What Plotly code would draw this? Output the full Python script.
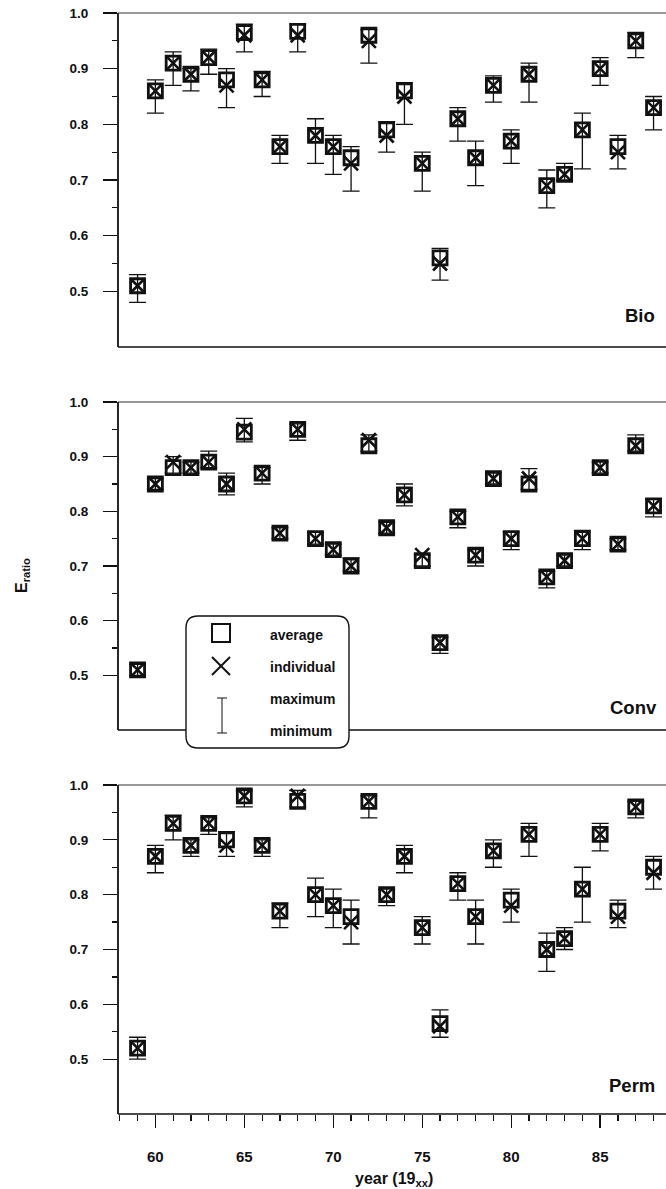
import plotly.graph_objects as go

# ---------------- data ----------------
years = list(range(59, 89))

bio_avg = [0.51, 0.86, 0.91, 0.89, 0.92, 0.88, 0.965, 0.88, 0.76, 0.967, 0.78, 0.76, 0.74, 0.96, 0.79,
           0.86, 0.73, 0.56, 0.81, 0.74, 0.87, 0.77, 0.89, 0.69, 0.71, 0.79, 0.90, 0.76, 0.95, 0.83]
bio_ind = [0.51, 0.86, 0.91, 0.89, 0.92, 0.87, 0.96, 0.88, 0.76, 0.96, 0.78, 0.76, 0.73, 0.95, 0.78,
           0.85, 0.73, 0.55, 0.81, 0.74, 0.87, 0.77, 0.89, 0.69, 0.71, 0.79, 0.90, 0.75, 0.95, 0.83]
bio_max = [0.53, 0.88, 0.93, 0.90, 0.935, 0.90, 0.98, 0.895, 0.78, 0.98, 0.81, 0.78, 0.76, 0.97, 0.805,
           0.875, 0.75, 0.577, 0.83, 0.77, 0.887, 0.79, 0.91, 0.718, 0.73, 0.82, 0.92, 0.78, 0.965, 0.85]
bio_min = [0.48, 0.82, 0.87, 0.86, 0.89, 0.83, 0.93, 0.85, 0.73, 0.93, 0.73, 0.71, 0.68, 0.91, 0.75,
           0.80, 0.68, 0.52, 0.77, 0.69, 0.84, 0.73, 0.84, 0.65, 0.70, 0.72, 0.87, 0.72, 0.92, 0.79]

conv_avg = [0.51, 0.85, 0.88, 0.88, 0.89, 0.85, 0.945, 0.87, 0.76, 0.95, 0.75, 0.73, 0.70, 0.92, 0.77,
            0.83, 0.71, 0.56, 0.79, 0.72, 0.86, 0.75, 0.85, 0.68, 0.71, 0.75, 0.88, 0.74, 0.92, 0.81]
conv_ind = [0.51, 0.85, 0.89, 0.88, 0.89, 0.85, 0.95, 0.87, 0.76, 0.95, 0.75, 0.73, 0.70, 0.93, 0.77,
            0.83, 0.72, 0.56, 0.79, 0.72, 0.86, 0.75, 0.86, 0.68, 0.71, 0.75, 0.88, 0.74, 0.92, 0.81]
conv_max = [0.52, 0.86, 0.90, 0.89, 0.91, 0.87, 0.97, 0.88, 0.77, 0.96, 0.762, 0.74, 0.715, 0.94, 0.78,
            0.85, 0.72, 0.57, 0.80, 0.73, 0.87, 0.762, 0.878, 0.69, 0.72, 0.765, 0.89, 0.75, 0.94, 0.823]
conv_min = [0.50, 0.84, 0.87, 0.87, 0.88, 0.83, 0.927, 0.85, 0.75, 0.93, 0.74, 0.72, 0.69, 0.91, 0.76,
            0.81, 0.70, 0.54, 0.77, 0.70, 0.85, 0.73, 0.84, 0.66, 0.70, 0.73, 0.87, 0.73, 0.91, 0.79]

perm_avg = [0.52, 0.87, 0.93, 0.89, 0.93, 0.90, 0.98, 0.89, 0.77, 0.97, 0.80, 0.78, 0.76, 0.97, 0.80,
            0.87, 0.74, 0.565, 0.82, 0.76, 0.88, 0.79, 0.91, 0.70, 0.72, 0.81, 0.91, 0.77, 0.96, 0.85]
perm_ind = [0.52, 0.87, 0.93, 0.89, 0.93, 0.89, 0.98, 0.89, 0.77, 0.98, 0.80, 0.78, 0.75, 0.97, 0.80,
            0.87, 0.74, 0.56, 0.82, 0.76, 0.88, 0.78, 0.91, 0.70, 0.72, 0.81, 0.91, 0.76, 0.96, 0.84]
perm_max = [0.54, 0.89, 0.945, 0.90, 0.94, 0.915, 0.99, 0.90, 0.785, 0.99, 0.83, 0.81, 0.79, 0.98, 0.81,
            0.89, 0.76, 0.59, 0.84, 0.79, 0.90, 0.81, 0.93, 0.73, 0.74, 0.85, 0.93, 0.79, 0.97, 0.87]
perm_min = [0.50, 0.84, 0.90, 0.87, 0.91, 0.87, 0.96, 0.87, 0.74, 0.96, 0.76, 0.74, 0.71, 0.94, 0.78,
            0.84, 0.71, 0.54, 0.79, 0.71, 0.85, 0.75, 0.87, 0.66, 0.70, 0.75, 0.88, 0.74, 0.94, 0.81]

panel_names = ["Bio", "Conv", "Perm"]
y_ticks = [0.5, 0.6, 0.7, 0.8, 0.9, 1.0]
y_minor = [0.55, 0.65, 0.75, 0.85, 0.95]
x_ticks = [60, 65, 70, 75, 80, 85]
legend_labels = ["average", "individual", "maximum", "minimum"]

# ---------------- geometry ----------------
W, H = 666, 1189
ML, MR, MT, MB = 118, 0, 13, 75
PW, PH = W - ML - MR, H - MT - MB
X_LO, X_HI = 57.9, 88.7


def px(x):
    return (x - ML) / PW


def py(y):
    return (H - MB - y) / PH


panel_px = [(13, 347), (402, 730), (785, 1114)]
BLACK = "#111111"
FONT = "Liberation Sans, Arial, sans-serif"

panels = [
    (bio_avg, bio_ind, bio_max, bio_min),
    (conv_avg, conv_ind, conv_max, conv_min),
    (perm_avg, perm_ind, perm_max, perm_min),
]

fig = go.Figure()
layout = {}
shapes = []
for i, (avg, ind, mx, mn) in enumerate(panels):
    xs = "x" if i == 0 else f"x{i+1}"
    ys = "y" if i == 0 else f"y{i+1}"
    up = [a - b for a, b in zip(mx, avg)]
    dn = [b - a for a, b in zip(mn, avg)]
    fig.add_trace(go.Scatter(
        x=years, y=avg, mode="markers", xaxis=xs, yaxis=ys, showlegend=False,
        marker=dict(symbol="square-open", size=14, color=BLACK, line=dict(width=2.8, color=BLACK)),
        error_y=dict(type="data", symmetric=False, array=[max(u, 0) for u in up],
                     arrayminus=[max(d, 0) for d in dn], color=BLACK, thickness=1.3, width=8.5),
        hoverinfo="skip", cliponaxis=False))
    fig.add_trace(go.Scatter(
        x=years, y=ind, mode="markers", xaxis=xs, yaxis=ys, showlegend=False,
        marker=dict(symbol="x-thin-open", size=14, color=BLACK, line=dict(width=2.6, color=BLACK)),
        hoverinfo="skip", cliponaxis=False))

    top, bot = panel_px[i]
    xk = "xaxis" if i == 0 else f"xaxis{i+1}"
    yk = "yaxis" if i == 0 else f"yaxis{i+1}"
    xa = dict(domain=[0, 1], anchor=ys, range=[X_LO, X_HI],
              showline=False, mirror=False, showgrid=False, zeroline=False)
    if i == 2:
        xa.update(ticks="outside", tickmode="array", tickvals=x_ticks, ticklen=13, tickwidth=1.4,
                  tickcolor=BLACK, ticklabelstandoff=16,
                  tickfont=dict(family=FONT, size=15, color=BLACK, weight="bold"),
                  minor=dict(ticks="outside", tickmode="linear", tick0=59, dtick=1, ticklen=6,
                             tickwidth=1.2, tickcolor=BLACK))
    else:
        xa.update(ticks="", showticklabels=False)
    layout[xk] = xa
    layout[yk] = dict(domain=[py(bot), py(top)], anchor=xs, range=[0.4, 1.0], showline=False,
                      mirror=False, showgrid=False, zeroline=False,
                      ticks="outside", tickmode="array", tickvals=y_ticks,
                      ticktext=[f"{v:.1f}" for v in y_ticks], ticklen=14, tickwidth=1.2,
                      tickcolor=BLACK, ticklabelstandoff=12,
                      tickfont=dict(family=FONT, size=13.5, color=BLACK, weight="bold"),
                      minor=dict(ticks="outside", tickvals=y_minor, ticklen=5, tickwidth=1.2,
                                 tickcolor=BLACK))
    shapes.append(dict(type="line", xref="paper", yref="paper", x0=0, x1=0,
                       y0=py(bot), y1=py(top), line=dict(color=BLACK, width=1.8)))
    shapes.append(dict(type="line", xref="paper", yref="paper", x0=0, x1=1,
                       y0=py(top), y1=py(top), line=dict(color="#333333", width=1.2)))
    shapes.append(dict(type="line", xref="paper", yref="paper", x0=0, x1=1,
                       y0=py(bot), y1=py(bot), line=dict(color=BLACK, width=1.4)))

annotations = []
label_pos = [(657, 316), (659, 707), (657, 1085)]
for name, (lx, ly) in zip(panel_names, label_pos):
    annotations.append(dict(xref="paper", yref="paper", x=px(lx), y=py(ly), text=name,
                            showarrow=False, xanchor="right", yanchor="middle",
                            font=dict(family=FONT, size=18.5, color=BLACK, weight="bold")))
annotations.append(dict(xref="paper", yref="paper", x=px(394), y=py(1179),
                        text="year (19<sub>xx</sub>)", showarrow=False, xanchor="center",
                        yanchor="middle", font=dict(family=FONT, size=16, color=BLACK, weight="bold")))
annotations.append(dict(xref="paper", yref="paper", x=px(22), y=py(576), text="E<sub>ratio</sub>",
                        showarrow=False, textangle=-90, xanchor="center", yanchor="middle",
                        font=dict(family=FONT, size=16, color=BLACK, weight="bold")))

x0, x1, y0, y1, r = 186, 349, 616, 748, 12
rx, ry = r / PW, r / PH
X0, X1, Y0, Y1 = px(x0), px(x1), py(y1), py(y0)
path = (f"M{X0+rx},{Y1} L{X1-rx},{Y1} Q{X1},{Y1} {X1},{Y1-ry} L{X1},{Y0+ry} "
        f"Q{X1},{Y0} {X1-rx},{Y0} L{X0+rx},{Y0} Q{X0},{Y0} {X0},{Y0+ry} "
        f"L{X0},{Y1-ry} Q{X0},{Y1} {X0+rx},{Y1} Z")
shapes.append(dict(type="path", xref="paper", yref="paper", path=path, fillcolor="white",
                   line=dict(color=BLACK, width=1.4), layer="above"))
shapes.append(dict(type="rect", xref="paper", yref="paper", x0=px(212), x1=px(230),
                   y0=py(642), y1=py(624), line=dict(color=BLACK, width=2), layer="above"))
for (a, b, c, d) in [(212, 657, 230, 675), (212, 675, 230, 657)]:
    shapes.append(dict(type="line", xref="paper", yref="paper", x0=px(a), y0=py(b), x1=px(c),
                       y1=py(d), line=dict(color=BLACK, width=2), layer="above"))
for (a, b, c, d) in [(222, 698, 222, 733), (217, 698, 227, 698), (217, 733, 227, 733)]:
    shapes.append(dict(type="line", xref="paper", yref="paper", x0=px(a), y0=py(b), x1=px(c),
                       y1=py(d), line=dict(color=BLACK, width=1), layer="above"))
for lab, ly in zip(legend_labels, [635, 667, 699, 731]):
    annotations.append(dict(xref="paper", yref="paper", x=px(268), y=py(ly), text=lab,
                            showarrow=False, xanchor="left", yanchor="middle",
                            font=dict(family=FONT, size=14, color=BLACK, weight="bold")))

fig.update_layout(width=W, height=H, margin=dict(l=ML, r=MR, t=MT, b=MB),
                  paper_bgcolor="white", plot_bgcolor="white", showlegend=False,
                  annotations=annotations, shapes=shapes, **layout)

fig.write_html("out.html", config={"staticPlot": True})
